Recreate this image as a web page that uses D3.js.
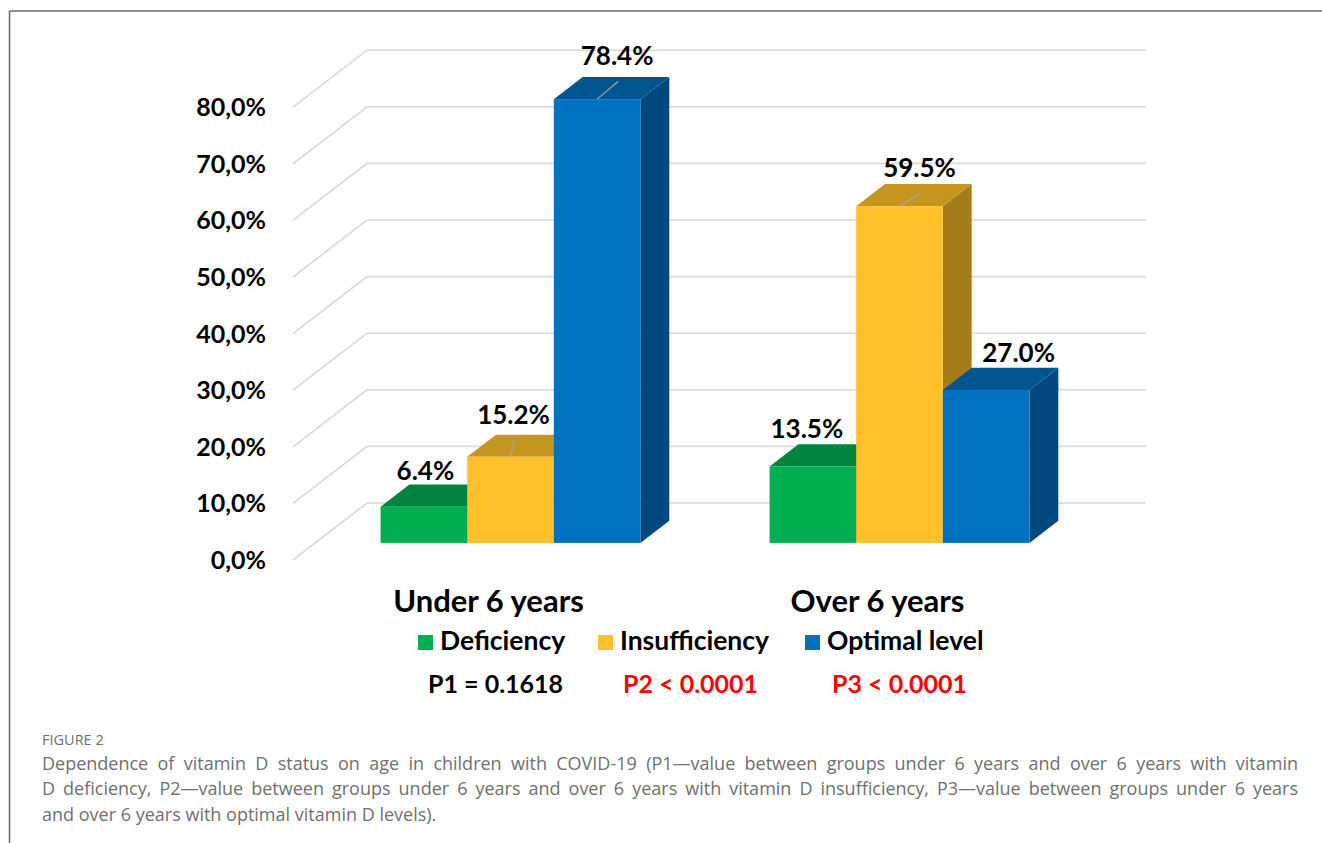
<!DOCTYPE html>
<html>
<head>
<meta charset="utf-8">
<script src="https://cdn.jsdelivr.net/npm/d3@7/dist/d3.min.js"></script>
<style>
  html, body { margin: 0; padding: 0; background: #fff; }
  svg { display: block; }
</style>
</head>
<body>
<svg id="chart" width="1322" height="843"></svg>
<script>
// ---- data ----
const categories = ["Under 6 years", "Over 6 years"];
const seriesNames = ["Deficiency", "Insufficiency", "Optimal level"];
const deficiency = [6.4, 13.5];
const insufficiency = [15.2, 59.5];
const optimalLevel = [78.4, 27.0];
const yTickValues = [0, 10, 20, 30, 40, 50, 60, 70, 80];
const pLabels = ["P1 = 0.1618", "P2 < 0.0001", "P3 < 0.0001"];
const pSignificant = [false, true, true];
const captionTitle = "FIGURE 2";
const captionLines = [
  "Dependence of vitamin D status on age in children with COVID-19 (P1\u2014value between groups under 6 years and over 6 years with vitamin",
  "D deficiency, P2\u2014value between groups under 6 years and over 6 years with vitamin D insufficiency, P3\u2014value between groups under 6 years",
  "and over 6 years with optimal vitamin D levels)."
];

const seriesValues = [deficiency, insufficiency, optimalLevel];

// ---- styling ----
const palette = {
  front: ["#00B050", "#FFC02A", "#0070C0"],
  top:   ["#00843E", "#C4951F", "#00558F"],
  side:  ["#00703A", "#A47C19", "#00487F"]
};
const FONT = "Lato, 'Open Sans', sans-serif";

// ---- 3D geometry ----
const svg = d3.select("#chart");
const depthVec = [74, -57];          // full wall depth projected on screen
const barDepth0 = 0.30, barDepth1 = 0.69;  // bar slab inside the depth
const wallLeft = 293, wallRight = 1146;

const y = d3.scaleLinear().domain([0, 80]).range([560, 107.2]);   // front plane
const proj = (px, py, d) => [px + d * depthVec[0], py + d * depthVec[1]];

const xGroup = d3.scaleBand().domain(categories).range([316, 1094])
  .paddingInner(0.332).paddingOuter(0.166);
const xSeries = d3.scaleBand().domain(seriesNames).range([0, xGroup.bandwidth()]);

// frame lines
svg.append("line").attr("x1", 9.5).attr("y1", 11).attr("x2", 1322).attr("y2", 11)
  .attr("stroke", "#6b6b6b").attr("stroke-width", 1.5);
svg.append("line").attr("x1", 9.5).attr("y1", 11).attr("x2", 9.5).attr("y2", 843)
  .attr("stroke", "#6b6b6b").attr("stroke-width", 1.5);

// gridlines on side wall + back wall
const grid = svg.append("g");
yTickValues.forEach(t => {
  const yf = y(t);
  const back = proj(wallLeft, yf, 1);
  grid.append("polyline")
    .attr("points", [[wallLeft, yf], back, [wallRight, back[1]]].map(p => p.join(",")).join(" "))
    .attr("fill", "none").attr("stroke", "#d9d9d9").attr("stroke-width", 1.6);
});

// y tick labels
const commaLocale = d3.formatLocale({ decimal: ",", thousands: ".", grouping: [3], currency: ["", ""] });
const fmtTick = v => commaLocale.format(".1f")(v) + "%";
svg.append("g").selectAll("text").data(yTickValues).join("text")
  .attr("x", 266).attr("y", d => y(d)).attr("dy", "0.36em")
  .attr("text-anchor", "end")
  .attr("font-family", FONT).attr("font-weight", 700).attr("font-size", 25)
  .attr("fill", "#000").text(fmtTick);

// ---- bars ----
const dBar = barDepth1 - barDepth0;
const bars = [];
categories.forEach((c, ci) => {
  seriesNames.forEach((s, si) => {
    bars.push({ c, ci, s, si, v: seriesValues[si][ci] });
  });
});

// per-label placement tweaks (dx, dy) and leader-line flags
const labelShift = [[1.5, 2], [3, -4.5], [20, -5.5], [-6, 0], [20, -1], [32.5, 0]];
const showLeader = [false, true, true, false, true, false];

const barG = svg.append("g");
bars.forEach((b, i) => {
  const x0 = xGroup(b.c) + xSeries(b.s);
  const x1 = x0 + xSeries.bandwidth();
  const base = proj(0, y(0), barDepth0)[1];
  const top = proj(0, y(b.v), barDepth0)[1];
  const dx = dBar * depthVec[0], dy = dBar * depthVec[1];
  const g = barG.append("g");
  // right side face
  g.append("polygon")
    .attr("points", [[x1, top], [x1 + dx, top + dy], [x1 + dx, base + dy], [x1, base]].map(p => p.join(",")).join(" "))
    .attr("fill", palette.side[b.si]);
  // top face
  g.append("polygon")
    .attr("points", [[x0, top], [x0 + dx, top + dy], [x1 + dx, top + dy], [x1, top]].map(p => p.join(",")).join(" "))
    .attr("fill", palette.top[b.si]);
  // front face
  g.append("rect").attr("x", x0).attr("y", top).attr("width", x1 - x0).attr("height", base - top)
    .attr("fill", palette.front[b.si]);

  b.cx = (x0 + x1) / 2;
  b.top = top;
  b.labelX = b.cx + labelShift[i][0];
  b.labelY = top + dy - 6 + labelShift[i][1];
});

// leader lines and value labels
const labelG = svg.append("g");
bars.forEach((b, i) => {
  if (showLeader[i]) {
    labelG.append("line")
      .attr("x1", b.cx).attr("y1", b.top)
      .attr("x2", b.labelX + 1).attr("y2", b.labelY + 16)
      .attr("stroke", "#a6a6a6").attr("stroke-width", 1.2);
  }
  labelG.append("text")
    .attr("x", b.labelX).attr("y", b.labelY)
    .attr("text-anchor", "middle")
    .attr("font-family", FONT).attr("font-weight", 700).attr("font-size", 26)
    .attr("fill", "#000").text(b.v.toFixed(1) + "%");
});

// category labels
svg.append("g").selectAll("text").data(categories).join("text")
  .attr("x", d => xGroup(d) + xGroup.bandwidth() / 2 - 22)
  .attr("y", 612)
  .attr("text-anchor", "middle")
  .attr("font-family", FONT).attr("font-weight", 700).attr("font-size", 31)
  .attr("fill", "#000").text(d => d);

// legend
const legendX = [418, 598, 805];
const legend = svg.append("g");
seriesNames.forEach((s, i) => {
  legend.append("rect").attr("x", legendX[i]).attr("y", 635).attr("width", 15).attr("height", 15)
    .attr("fill", palette.front[i]);
  legend.append("text").attr("x", legendX[i] + 22).attr("y", 650)
    .attr("font-family", FONT).attr("font-weight", 700).attr("font-size", 26.5)
    .attr("fill", "#000").text(s);
});

// p-values
const pX = [428, 623, 832];
svg.append("g").selectAll("text").data(pLabels).join("text")
  .attr("x", (d, i) => pX[i]).attr("y", 693)
  .attr("font-family", FONT).attr("font-weight", 700).attr("font-size", 25)
  .attr("fill", (d, i) => pSignificant[i] ? "#FF0000" : "#000").text(d => d);

// caption
const cap = svg.append("g").attr("font-family", "'Open Sans', Lato, sans-serif").attr("fill", "#707070");
cap.append("text").attr("x", 42).attr("y", 745).attr("font-size", 14.5).text(captionTitle);

const capLeft = 42, capRight = 1298, capFont = 18;
captionLines.forEach((line, li) => {
  const yy = 769.5 + li * 25.5;
  const words = line.split(" ");
  const nodes = words.map(w => cap.append("text").attr("y", yy).attr("font-size", capFont).text(w));
  const widths = nodes.map(n => n.node().getComputedTextLength());
  const total = d3.sum(widths);
  const justify = li < captionLines.length - 1;
  const spaceW = capFont * 0.26;
  const gap = justify ? (capRight - capLeft - total) / (words.length - 1) : spaceW;
  let cx = capLeft;
  nodes.forEach((n, k) => { n.attr("x", cx); cx += widths[k] + gap; });
});
</script>
</body>
</html>
